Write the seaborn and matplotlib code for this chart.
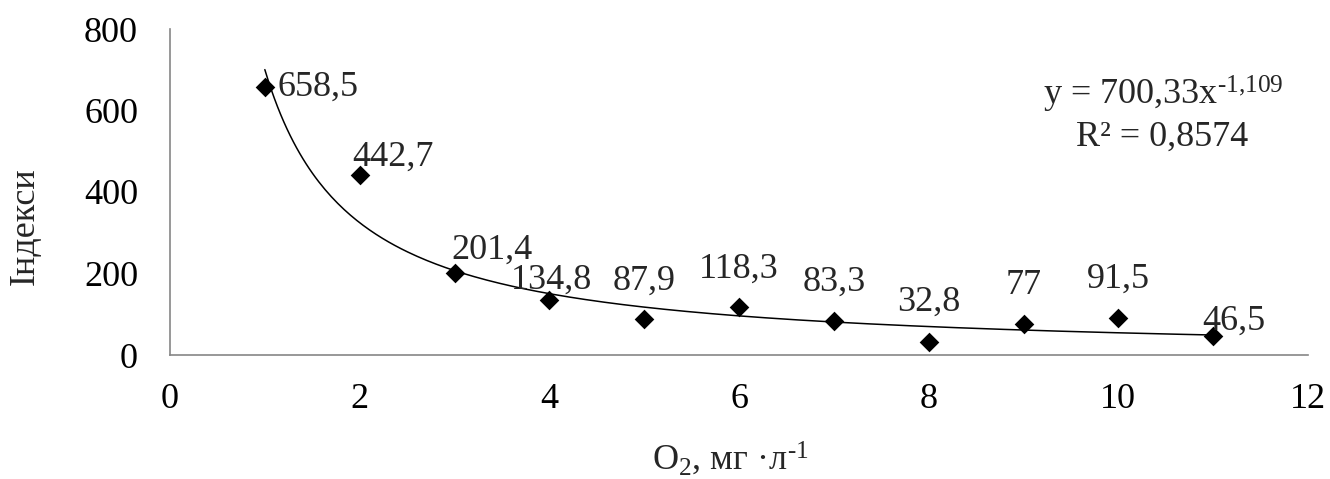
import numpy as np
import pandas as pd
import matplotlib.pyplot as plt
import seaborn as sns

# data
o2 = [1, 2, 3, 4, 5, 6, 7, 8, 9, 10, 11]
index_vals = [658.5, 442.7, 201.4, 134.8, 87.9, 118.3, 83.3, 32.8, 77, 91.5, 46.5]

# power trendline shown on the chart: y = a * x^b
trend_a = 700.33
trend_b = -1.109
trend_r2 = "0,8574"

# label offsets in pixels (dx, dy of baseline) and alignment
label_pos = [(13, -9, 'left'), (-7, 9, 'left'), (-3, 14, 'left'), (2, 11, 'center'),
             (0, 29, 'center'), (0, 29, 'center'), (0, 30, 'center'), (0, 31, 'center'),
             (0, 30, 'center'), (0, 30, 'center'), (-11, 6, 'left')]

W, H = 1330, 479
FS = 26

sns.set_style('white')
plt.rcParams['font.family'] = ['Liberation Serif', 'DejaVu Serif']
plt.rcParams['mathtext.fontset'] = 'custom'
plt.rcParams['mathtext.rm'] = 'Liberation Serif'
plt.rcParams['mathtext.it'] = 'Liberation Serif'

df = pd.DataFrame({'O2': o2, 'Index': index_vals})

fig = plt.figure(figsize=(W / 100, H / 100), dpi=100)
ax = fig.add_axes([170 / W, 1 - 355 / H, 1138 / W, 326 / H])

# trendline
xs = np.linspace(min(o2), max(o2), 300)
ax.plot(xs, trend_a * xs ** trend_b, color='black', lw=1.1, zorder=2)

sns.scatterplot(data=df, x='O2', y='Index', marker='D', s=100, color='black',
                edgecolor='black', linewidth=0, ax=ax, zorder=3)

for (x, v), (dx, dy, ha) in zip(zip(o2, index_vals), label_pos):
    txt = f"{v:g}".replace('.', ',')
    ax.annotate(txt, (x, v), xytext=(dx, dy), textcoords='offset pixels',
                ha=ha, va='baseline', fontsize=FS)

ax.set_xlim(0, 12)
ax.set_ylim(0, 800)
ax.set_xticks(range(0, 13, 2))
ax.set_yticks(range(0, 801, 200))

for s in ['top', 'right']:
    ax.spines[s].set_visible(False)
for s in ['left', 'bottom']:
    ax.spines[s].set_color('#868686')
    ax.spines[s].set_linewidth(1.2)
ax.tick_params(axis='both', direction='out', length=7, width=1.2, color='#868686',
               labelsize=FS, labelcolor='black')
ax.tick_params(axis='x', pad=13)
ax.tick_params(axis='y', pad=16)

ax.set_xlabel(r'O$_2$, мг ·л$^{\text{-1}}$', fontsize=FS, va='baseline')
ax.set_ylabel('Індекси', fontsize=FS, va='center')
ax.xaxis.set_label_coords(730 / W, 1 - 470 / H, transform=fig.transFigure)
ax.yaxis.set_label_coords(25 / W, 1 - 226 / H, transform=fig.transFigure)

# trendline equation
fig.text(1163 / W, 1 - 105 / H, r'y = 700,33x$^{\text{-1,109}}$', fontsize=FS,
         ha='center', va='baseline')
fig.text(1162 / W, 1 - 146 / H, 'R² = ' + trend_r2, fontsize=FS,
         ha='center', va='baseline')

fig.savefig('out.png', dpi=100)
